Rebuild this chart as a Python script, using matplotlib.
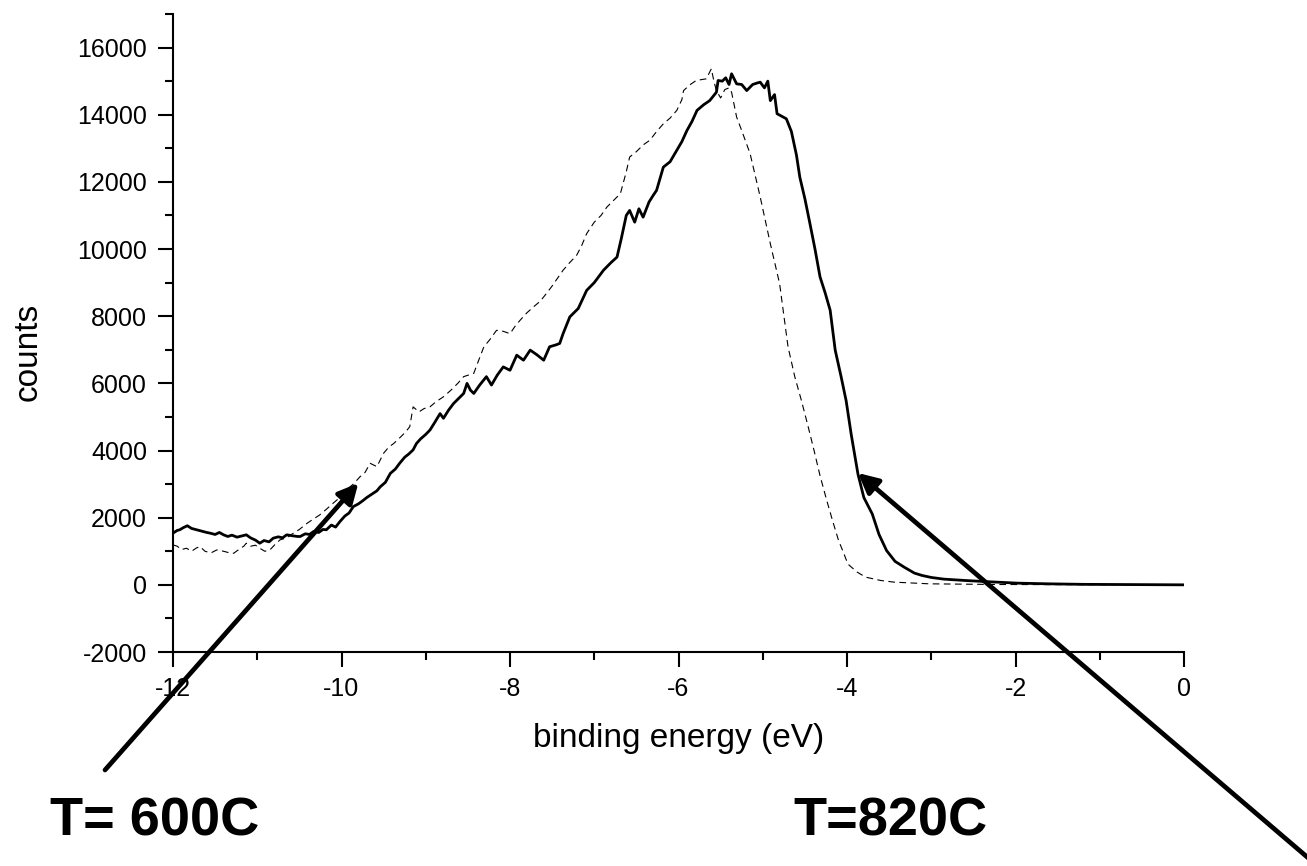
import numpy as np
import matplotlib
matplotlib.use('Agg')
import matplotlib.pyplot as plt
from matplotlib.ticker import MultipleLocator

plt.rcParams['font.family'] = ['Liberation Sans', 'DejaVu Sans']
plt.rcParams['axes.unicode_minus'] = False

# ---- spectra (binding energy in eV, counts) ----
e_820 = [-12.00, -11.95, -11.92, -11.88, -11.83, -11.78, -11.72, -11.66, -11.60, -11.56,
         -11.50, -11.45, -11.40, -11.35, -11.30, -11.24, -11.18, -11.13, -11.08, -11.02,
         -10.97, -10.92, -10.86, -10.81, -10.75, -10.70, -10.65, -10.58, -10.52, -10.49,
         -10.43, -10.38, -10.33, -10.27, -10.22, -10.18, -10.12, -10.07, -10.02, -9.96,
         -9.91, -9.86, -9.80, -9.75, -9.70, -9.64, -9.58, -9.54, -9.48, -9.42,
         -9.36, -9.31, -9.25, -9.20, -9.15, -9.11, -9.06, -9.00, -8.95, -8.89,
         -8.83, -8.79, -8.73, -8.67, -8.61, -8.55, -8.51, -8.47, -8.43, -8.36,
         -8.28, -8.22, -8.15, -8.08, -8.00, -7.92, -7.84, -7.76, -7.68, -7.60,
         -7.53, -7.45, -7.41, -7.37, -7.29, -7.19, -7.09, -7.00, -6.94, -6.89,
         -6.80, -6.73, -6.68, -6.62, -6.58, -6.52, -6.47, -6.42, -6.35, -6.30,
         -6.26, -6.18, -6.10, -6.02, -5.96, -5.90, -5.84, -5.78, -5.70, -5.63,
         -5.55, -5.53, -5.48, -5.44, -5.40, -5.37, -5.31, -5.25, -5.19, -5.12,
         -5.06, -5.03, -4.98, -4.94, -4.91, -4.86, -4.83, -4.72, -4.66, -4.60,
         -4.56, -4.50, -4.44, -4.38, -4.32, -4.26, -4.20, -4.14, -4.07, -4.01,
         -3.95, -3.87, -3.80, -3.70, -3.62, -3.53, -3.43, -3.32, -3.20, -3.11,
         -3.00, -2.85, -2.60, -2.30, -1.97, -1.60, -1.20, -0.80, -0.40, 0.00]
c_820 = [1540, 1620, 1640, 1700, 1760, 1680, 1640, 1600, 1560, 1540,
         1500, 1560, 1490, 1440, 1480, 1420, 1460, 1490, 1400, 1330,
         1240, 1320, 1280, 1390, 1430, 1400, 1490, 1460, 1440, 1440,
         1520, 1500, 1590, 1560, 1650, 1640, 1780, 1720, 1880, 2050,
         2140, 2330, 2410, 2500, 2600, 2700, 2800, 2920, 3050, 3320,
         3450, 3620, 3800, 3900, 4020, 4210, 4350, 4480, 4610, 4850,
         5100, 4960, 5200, 5400, 5550, 5700, 6000, 5800, 5700, 5950,
         6200, 5950, 6250, 6490, 6390, 6840, 6690, 6990, 6850, 6690,
         7090, 7150, 7190, 7480, 7980, 8230, 8770, 9000, 9200, 9370,
         9600, 9760, 10300, 11000, 11150, 10800, 11200, 10950, 11400, 11600,
         11750, 12440, 12600, 12940, 13200, 13530, 13800, 14130, 14300, 14420,
         14670, 15020, 15000, 15100, 14900, 15220, 14920, 14900, 14720, 14900,
         14950, 14970, 14800, 15000, 14420, 14600, 14030, 13880, 13500, 12800,
         12140, 11500, 10760, 10000, 9170, 8700, 8180, 6990, 6200, 5480,
         4480, 3300, 2600, 2110, 1500, 1020, 700, 525, 350, 280,
         220, 170, 130, 90, 50, 30, 15, 10, 5, 0]

e_600 = [-12.00, -11.95, -11.90, -11.84, -11.78, -11.72, -11.68, -11.62, -11.55, -11.48,
         -11.40, -11.34, -11.28, -11.22, -11.16, -11.13, -11.08, -11.02, -10.97, -10.91,
         -10.85, -10.79, -10.73, -10.65, -10.57, -10.50, -10.41, -10.34, -10.26, -10.18,
         -10.10, -10.02, -9.94, -9.86, -9.78, -9.72, -9.66, -9.58, -9.50, -9.44,
         -9.38, -9.30, -9.24, -9.19, -9.15, -9.08, -9.02, -8.95, -8.88, -8.79,
         -8.70, -8.62, -8.55, -8.49, -8.43, -8.37, -8.31, -8.24, -8.16, -8.08,
         -8.00, -7.94, -7.88, -7.80, -7.72, -7.64, -7.57, -7.50, -7.43, -7.37,
         -7.29, -7.21, -7.15, -7.09, -7.00, -6.92, -6.85, -6.77, -6.69, -6.62,
         -6.58, -6.50, -6.42, -6.34, -6.26, -6.18, -6.10, -6.02, -5.96, -5.94,
         -5.86, -5.79, -5.72, -5.67, -5.61, -5.58, -5.55, -5.50, -5.45, -5.40,
         -5.37, -5.31, -5.25, -5.15, -5.03, -4.91, -4.80, -4.70, -4.62, -4.54,
         -4.46, -4.39, -4.32, -4.24, -4.17, -4.10, -4.04, -3.99, -3.88, -3.78,
         -3.60, -3.44, -3.20, -3.02, -2.60, -2.18, -1.50, -0.80, 0.00]
c_600 = [1190, 1150, 1050, 1090, 1000, 1100, 1140, 1000, 950, 1040,
         1000, 960, 940, 1050, 1150, 1240, 1150, 1180, 1090, 1000,
         1040, 1200, 1340, 1400, 1540, 1650, 1830, 1950, 2080, 2250,
         2430, 2600, 2830, 3000, 3220, 3350, 3620, 3520, 3920, 4100,
         4210, 4400, 4550, 4710, 5300, 5150, 5250, 5300, 5450, 5600,
         5800, 6000, 6200, 6250, 6300, 6700, 7090, 7300, 7580, 7550,
         7480, 7700, 7880, 8100, 8280, 8450, 8670, 8900, 9150, 9370,
         9600, 9810, 10100, 10460, 10800, 11000, 11250, 11450, 11650, 12300,
         12740, 12900, 13100, 13240, 13500, 13730, 13900, 14130, 14450, 14720,
         14900, 15020, 15050, 15070, 15370, 15000, 14720, 14500, 14750, 14800,
         14670, 13930, 13530, 12840, 11550, 10160, 8970, 7090, 6200, 5480,
         4700, 3990, 3250, 2510, 1900, 1320, 950, 620, 380, 230,
         130, 80, 50, 30, 20, 10, 5, 3, 0]

W, H = 1307, 866
fig = plt.figure(figsize=(W / 100, H / 100), dpi=100)
ax = fig.add_axes([173 / W, 214 / H, 1011 / W, 638 / H])

ax.plot(e_600, c_600, color='k', lw=0.8, dashes=(6, 4))
ax.plot(e_820, c_820, color='k', lw=2.0)

ax.set_xlim(-12, 0)
ax.set_ylim(-2000, 17000)
ax.xaxis.set_major_locator(MultipleLocator(2))
ax.xaxis.set_minor_locator(MultipleLocator(1))
ax.yaxis.set_major_locator(MultipleLocator(2000))
ax.yaxis.set_minor_locator(MultipleLocator(1000))
for s in ('top', 'right'):
    ax.spines[s].set_visible(False)
for s in ('left', 'bottom'):
    ax.spines[s].set_linewidth(1.5)
ax.tick_params(which='major', direction='out', length=10.8, width=1.5, labelsize=18, pad=8)
ax.tick_params(which='minor', direction='out', length=5.8, width=1.5)
ax.tick_params(axis='x', which='major', pad=7)

ax.set_xlabel('binding energy (eV)', fontsize=24)
ax.set_ylabel('counts', fontsize=24)
ax.xaxis.set_label_coords(0.5, -0.112)
ax.yaxis.set_label_coords(-0.128, 0.47)

# arrows pointing from the labels to the curves
ax.annotate('', xy=(-9.80, 3030), xycoords='data',
            xytext=(105 / W, 1 - 770 / H), textcoords='figure fraction',
            arrowprops=dict(arrowstyle='-|>', lw=3.4, color='k', mutation_scale=30,
                            shrinkA=0, shrinkB=0), annotation_clip=False)
ax.annotate('', xy=(-3.87, 3330), xycoords='data',
            xytext=(1320 / W, 1 - 868 / H), textcoords='figure fraction',
            arrowprops=dict(arrowstyle='-|>', lw=3.4, color='k', mutation_scale=30,
                            shrinkA=0, shrinkB=0), annotation_clip=False)

fig.text(50 / W, 1 - 835 / H, 'T= 600C', fontsize=39, fontweight='bold', va='baseline')
fig.text(793 / W, 1 - 836 / H, 'T=820C', fontsize=39, fontweight='bold', va='baseline')

fig.savefig('out.png', dpi=100)
